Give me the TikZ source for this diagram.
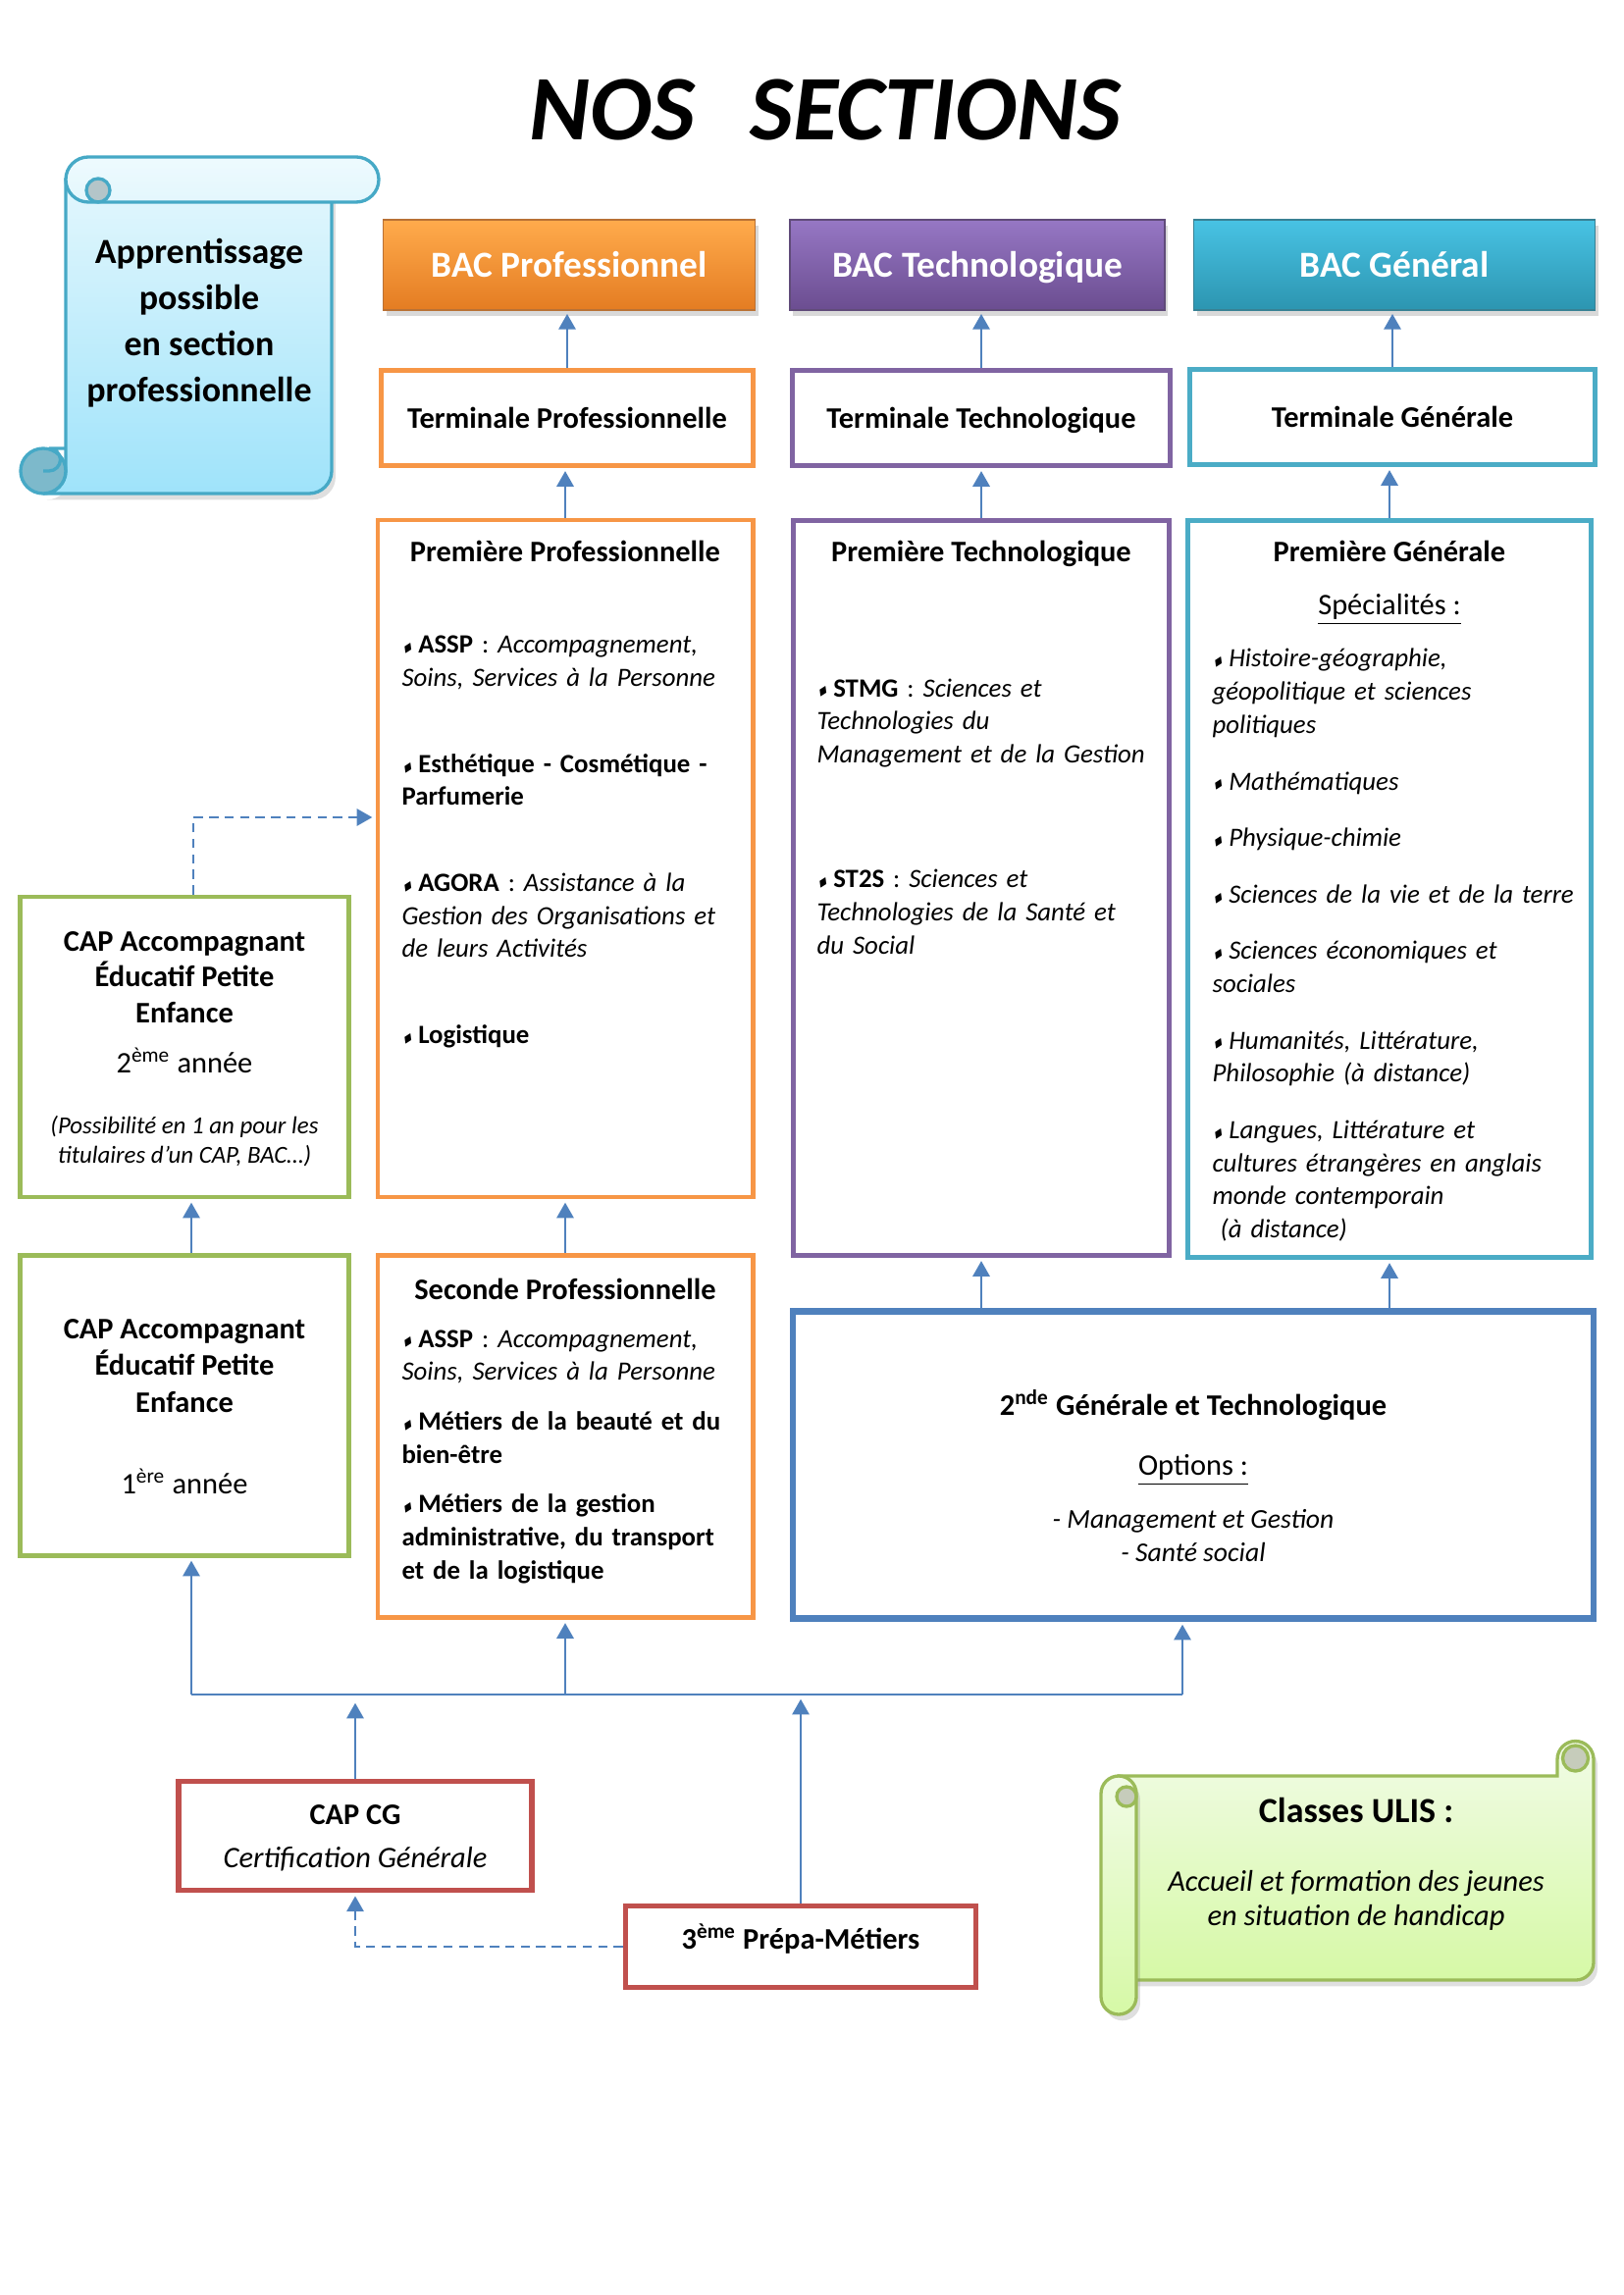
\documentclass[tikz,border=0pt]{standalone}
\usepackage{amssymb}
\usepackage{fontspec}
\setmainfont{Carlito}
\usetikzlibrary{arrows.meta,shadows}

\definecolor{orangeB}{HTML}{F79646}
\definecolor{violetB}{HTML}{8064A2}
\definecolor{turquoiseB}{HTML}{4BACC6}
\definecolor{vertB}{HTML}{9BBB59}
\definecolor{rougeB}{HTML}{C0504D}
\definecolor{bleuB}{HTML}{4F81BD}
\definecolor{bacPhaut}{HTML}{FFAB4C}
\definecolor{bacPbas}{HTML}{E47C22}
\definecolor{bacThaut}{HTML}{9677C4}
\definecolor{bacTbas}{HTML}{6B4D90}
\definecolor{bacGhaut}{HTML}{48C3E4}
\definecolor{bacGbas}{HTML}{2C95B0}
\definecolor{apHaut}{HTML}{E3F7FD}
\definecolor{apBas}{HTML}{9FE3FA}
\definecolor{apTrait}{HTML}{46A9C6}
\definecolor{apRoule}{HTML}{7DB9CB}
\definecolor{apGris}{HTML}{B4C5C9}
\definecolor{ulHaut}{HTML}{F1FBE6}
\definecolor{ulBas}{HTML}{D6F9A6}
\definecolor{ulGris}{HTML}{C6CCBB}

\newlength{\pu}
\setlength{\pu}{0.127mm}
\newcommand{\puce}{\raisebox{0.25ex}{\scalebox{0.5}{\rotatebox{-25}{$\blacklozenge$}}}\hspace{0.15em}}
\frenchspacing

\begin{document}
\begin{tikzpicture}[x=\pu, y=-\pu,
    cadre/.style={draw=#1, line width=1.8pt, fill=white, inner sep=0pt},
    une/.style={text height=9.8pt, text depth=2.2pt},
    bac/.style={draw=#1!75!black, line width=0.6pt, inner sep=0pt, text=white,
      text height=12pt, text depth=2.7pt,
      font=\fontsize{13.5}{16}\selectfont\bfseries,
      drop shadow={opacity=0.3, shadow xshift=0.4mm, shadow yshift=-0.7mm}},
    titre/.style={font=\fontsize{11}{13.2}\selectfont\bfseries, align=center},
    texte/.style={font=\fontsize{11}{13.2}\selectfont, align=center, inner sep=0pt},
    liste/.style={font=\fontsize{9.7}{12.2}\selectfont, text width=#1\pu, align=left,
      inner sep=0pt, anchor=base west},
    fleche/.style={draw=bleuB, line width=0.8pt, -{Triangle[length=2mm, width=2.2mm]},
      shorten >=0.4mm},
    pointille/.style={fleche, dash pattern=on 3.4pt off 2.3pt}]

\useasboundingbox (0,0) rectangle (1654,2339);

% titre
\node[font=\fontsize{34}{40}\selectfont\bfseries\itshape] (titre) at (841,112) {NOS\hspace{0.6em}SECTIONS};

% rouleau apprentissage
\shade[top color=apHaut, bottom color=apBas, draw=apTrait, line width=1.2pt,
    drop shadow={opacity=0.25, shadow xshift=0.5mm, shadow yshift=-0.8mm}]
  (67,183) -- (67,480) arc[start angle=0, end angle=90, radius=23] -- (315,503)
  arc[start angle=90, end angle=0, radius=23] -- (338,183) -- cycle;
\filldraw[fill=apRoule, draw=apTrait, line width=1.2pt] (44,480) circle[radius=23];
\draw[apTrait, line width=1.2pt] (44,480) -- (50,480)
  arc[start angle=90, end angle=-90, radius=11.5] -- (67,457);
\shade[top color=apHaut!60!white, bottom color=apHaut, draw=apTrait, line width=1.2pt]
  (90,160) -- (363,160) arc[start angle=-90, end angle=90, radius=23] -- (90,206)
  arc[start angle=90, end angle=270, radius=23] -- cycle;
\filldraw[fill=apGris, draw=apTrait, line width=1.2pt] (100,194) circle[radius=12];
\node[font=\fontsize{13}{17}\selectfont\bfseries, align=center] (appr) at (203,329)
  {Apprentissage\\possible\\en section\\professionnelle};

% BAC
\node[bac=orangeB, top color=bacPhaut, bottom color=bacPbas, minimum width=379\pu,
  minimum height=92\pu] (bacP) at (580,270) {BAC Professionnel};
\node[bac=violetB, top color=bacThaut, bottom color=bacTbas, minimum width=382\pu,
  minimum height=92\pu] (bacT) at (996,270) {BAC Technologique};
\node[bac=turquoiseB, top color=bacGhaut, bottom color=bacGbas, minimum width=409\pu,
  minimum height=92\pu] (bacG) at (1421,270) {BAC Général};

% terminales
\node[cadre=orangeB, titre, une, minimum width=379\pu, minimum height=97\pu] (termP) at (578,426)
  {Terminale Professionnelle};
\node[cadre=violetB, titre, une, minimum width=385\pu, minimum height=97\pu] (termT) at (1000,426)
  {Terminale Technologique};
\node[cadre=turquoiseB, titre, une, minimum width=413\pu, minimum height=97\pu] (termG) at (1419,425)
  {Terminale Générale};

% premieres
\node[cadre=orangeB, minimum width=382\pu, minimum height=690\pu] (premP) at (576,875) {};
\node[titre, une] (premP-t) at (premP.north |- 0,562) {Première Professionnelle};
\node[liste=350] (premP-l) at (409,666) {%
  \puce\textbf{ASSP} : \textit{Accompagnement,}\\
  \textit{Soins, Services à la Personne}\\[19.4pt]
  \puce\textbf{Esthétique - Cosmétique -}\\
  \textbf{Parfumerie}\\[19.4pt]
  \puce\textbf{AGORA} : \textit{Assistance à la}\\
  \textit{Gestion des Organisations et}\\
  \textit{de leurs Activités}\\[19.4pt]
  \puce\textbf{Logistique}};

\node[cadre=violetB, minimum width=383\pu, minimum height=749\pu] (premT) at (1000,905) {};
\node[titre, une] (premT-t) at (premT.north |- 0,562) {Première Technologique};
\node[liste=355] (premT-l) at (832,710) {%
  \puce\textbf{STMG} : \textit{Sciences et}\\
  \textit{Technologies du}\\
  \textit{Management et de la Gestion}\\[33.8pt]
  \puce\textbf{ST2S} : \textit{Sciences et}\\
  \textit{Technologies de la Santé et}\\
  \textit{du Social}};

\node[cadre=turquoiseB, minimum width=411\pu, minimum height=751\pu] (premG) at (1416,906) {};
\node[titre, une] (premG-t) at (premG.north |- 0,562) {Première Générale};
\node[texte, une] (premG-s) at (premG.north |- 0,616) {\underline{Spécialités :}};
\node[liste=400] (premG-l) at (1235,680) {%
  \puce\textit{Histoire-géographie,}\\
  \textit{géopolitique et sciences}\\
  \textit{politiques}\\[8.6pt]
  \puce\textit{Mathématiques}\\[8.6pt]
  \puce\textit{Physique-chimie}\\[8.6pt]
  \puce\textit{Sciences de la vie et de la terre}\\[8.6pt]
  \puce\textit{Sciences économiques et}\\
  \textit{sociales}\\[8.6pt]
  \puce\textit{Humanités, Littérature,}\\
  \textit{Philosophie (à distance)}\\[8.6pt]
  \puce\textit{Langues, Littérature et}\\
  \textit{cultures étrangères en anglais}\\
  \textit{monde contemporain}\\
  \hspace*{0.3em}\textit{(à distance)}};

% CAP AEPE
\node[cadre=vertB, minimum width=335\pu, minimum height=306\pu] (cap2) at (188,1067) {};
\node[titre] (cap2-t) at (cap2.north |- 0,996) {CAP Accompagnant\\Éducatif Petite\\Enfance};
\node[texte, une] (cap2-a) at (cap2.north |- 0,1083) {2\textsuperscript{ème} année};
\node[texte, font=\fontsize{9}{11}\selectfont\itshape] (cap2-p) at (cap2.north |- 0,1163)
  {(Possibilité en 1 an pour les\\titulaires d’un CAP, BAC…)};

\node[cadre=vertB, minimum width=335\pu, minimum height=306\pu] (cap1) at (188,1432) {};
\node[titre, font=\fontsize{11}{13.6}\selectfont\bfseries] (cap1-t) at (cap1.north |- 0,1392)
  {CAP Accompagnant\\Éducatif Petite\\Enfance};
\node[texte, une] (cap1-a) at (cap1.north |- 0,1512) {1\textsuperscript{ère} année};

% seconde pro
\node[cadre=orangeB, minimum width=382\pu, minimum height=369\pu] (secP) at (576,1464) {};
\node[titre, une] (secP-t) at (secP.north |- 0,1314) {Seconde Professionnelle};
\node[liste=355] (secP-l) at (409,1373) {%
  \puce\textbf{ASSP} : \textit{Accompagnement,}\\
  \textit{Soins, Services à la Personne}\\[6.1pt]
  \puce\textbf{Métiers de la beauté et du}\\
  \textbf{bien-être}\\[6.1pt]
  \puce\textbf{Métiers de la gestion}\\
  \textbf{administrative, du transport}\\
  \textbf{et de la logistique}};

% seconde GT
\node[cadre=bleuB, line width=2.2pt, minimum width=816\pu, minimum height=313\pu] (gt2) at (1216,1493) {};
\node[titre, une] (gt2-t) at (gt2.north |- 0,1432) {2\textsuperscript{nde} Générale et Technologique};
\node[texte, une] (gt2-o) at (gt2.north |- 0,1493) {\underline{Options :}};
\node[texte, font=\fontsize{10}{12.2}\selectfont\itshape] (gt2-l) at (gt2.north |- 0,1565)
  {- Management et Gestion\\- Santé social};

% CAP CG et 3eme
\node[cadre=rougeB, line width=2pt, minimum width=360\pu, minimum height=111\pu] (capCG) at (362,1871) {};
\node[titre, une] (capCG-t) at (capCG.north |- 0,1849) {CAP CG};
\node[texte, une, font=\fontsize{11}{13.2}\selectfont\itshape] (capCG-c) at (capCG.north |- 0,1893)
  {Certification Générale};
\node[cadre=rougeB, line width=2pt, minimum width=357\pu, minimum height=83\pu] (prepa) at (816,1984) {};
\node[titre, une] (prepa-t) at (prepa.north |- 0,1976) {3\textsuperscript{ème} Prépa-Métiers};

% rouleau ULIS
\shade[top color=ulHaut, bottom color=ulBas, draw=vertB, line width=1.2pt,
    drop shadow={opacity=0.25, shadow xshift=0.5mm, shadow yshift=-0.8mm}]
  (1140,1810) -- (1587,1810) -- (1587,1793) arc[start angle=180, end angle=360, radius=18.5]
  -- (1624,2000) arc[start angle=0, end angle=90, radius=18] -- (1140,2018) -- cycle;
\filldraw[fill=ulGris, draw=vertB, line width=1.2pt] (1605.5,1792) circle[radius=13];
\shade[top color=ulHaut, bottom color=ulBas, draw=vertB, line width=1.2pt,
    drop shadow={opacity=0.25, shadow xshift=0.5mm, shadow yshift=-0.8mm}]
  (1122,1828) -- (1122,2035) arc[start angle=180, end angle=0, radius=18]
  -- (1158,1828) arc[start angle=0, end angle=-180, radius=18] -- cycle;
\filldraw[fill=ulGris, draw=vertB, line width=1.2pt] (1148,1831) circle[radius=10];
\node[font=\fontsize{13}{16}\selectfont\bfseries] (ulis) at (1382,1845) {Classes ULIS :};
\node[font=\fontsize{11}{12.6}\selectfont\itshape, align=center] (ulis-t) at (1382,1937)
  {Accueil et formation des jeunes\\en situation de handicap};

% fleches
\draw[fleche] (termP.north) -- (termP.north |- bacP.south);
\draw[fleche] (termT.north) -- (termT.north |- bacT.south);
\draw[fleche] (termG.north) -- (termG.north |- bacG.south);
\draw[fleche] (premP.north) -- (premP.north |- termP.south);
\draw[fleche] (premT.north) -- (premT.north |- termT.south);
\draw[fleche] (premG.north) -- (premG.north |- termG.south);
\draw[fleche] (secP.north) -- (secP.north |- premP.south);
\draw[fleche] ([xshift=7\pu]cap1.north) -- ([xshift=7\pu]cap2.south);
\draw[fleche] (gt2.north -| premT) -- (premT.south);
\draw[fleche] (gt2.north -| premG) -- (premG.south);
\coordinate (coude) at ([xshift=9\pu]cap2.north |- 0,833);
\draw[pointille] ([xshift=9\pu]cap2.north) -- (coude) -- (coude -| premP.west);

\coordinate (busG) at ([xshift=7\pu]cap1.south |- 0,1727);
\coordinate (busD) at (1205,1727);
\draw[bleuB, line width=0.8pt] (busG) -- (busD);
\draw[fleche] (busG) -- (busG |- cap1.south);
\draw[fleche] (busG -| secP) -- (secP.south);
\draw[fleche] (busD) -- (busD |- gt2.south);
\draw[fleche, shorten >=1.1mm] (capCG.north) -- (capCG.north |- busG);
\draw[fleche, shorten >=0.6mm] (prepa.north) -- (prepa.north |- busG);
\draw[pointille] (prepa.west) -| (capCG.south);

\end{tikzpicture}
\end{document}
